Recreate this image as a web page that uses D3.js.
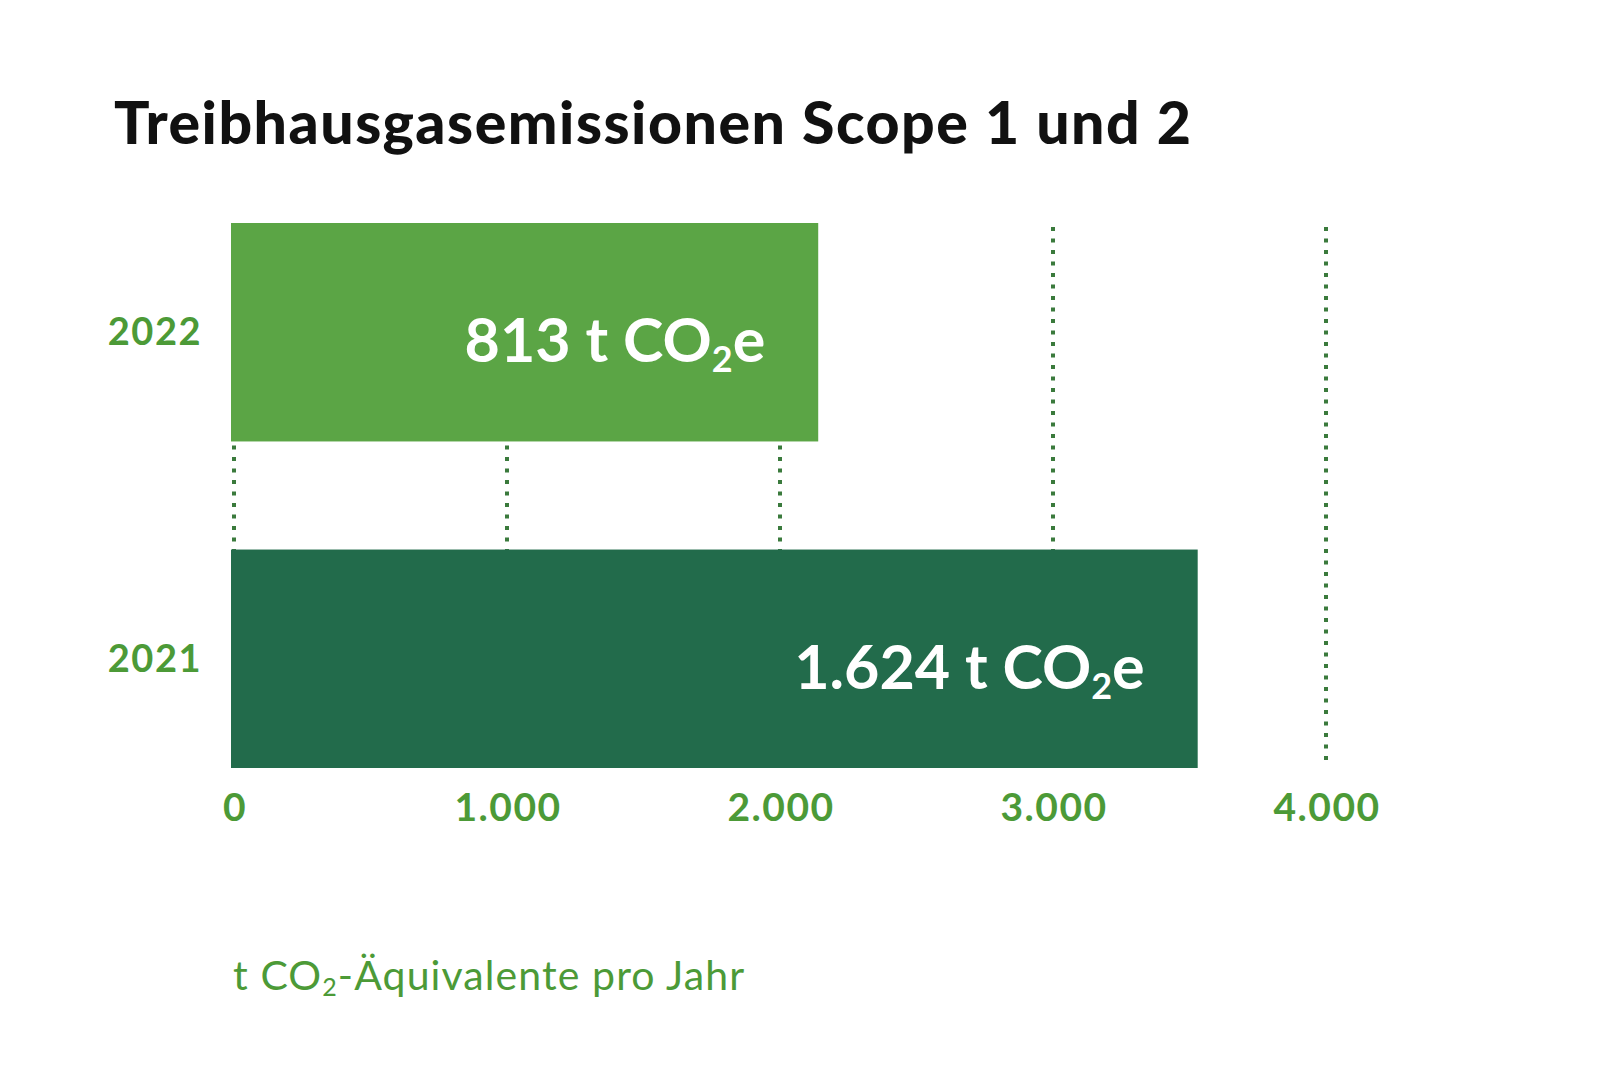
<!DOCTYPE html>
<html lang="de">
<head>
<meta charset="utf-8">
<script src="https://cdn.jsdelivr.net/npm/d3@7"></script>
<style>
  html, body { margin: 0; padding: 0; background: #fff; }
  svg { display: block; }
</style>
</head>
<body>
<div id="chart"></div>
<script>
// values
const years = ["2022", "2021"];
const emissions = [813, 1624];            // printed labels (t CO2e)
const barExtent = [2140, 3530];           // how far each bar reaches on the drawn axis
const ticks = [0, 1000, 2000, 3000, 4000];
const tickLabels = ["0", "1.000", "2.000", "3.000", "4.000"];
const barColors = ["#5ba545", "#226b4b"];

const title = "Treibhausgasemissionen Scope 1 und 2";

const width = 1600;
const height = 1068;
const fontFamily = "Lato, 'Open Sans', sans-serif";
const green = "#4c9a37";

const x = d3.scaleLinear().domain([0, 4000]).range([234, 1326]);
const y = d3.scaleBand().domain(years).range([223, 768]).paddingInner(0.331).paddingOuter(0);

const svg = d3
  .select("#chart")
  .append("svg")
  .attr("width", width)
  .attr("height", height)
  .attr("viewBox", `0 0 ${width} ${height}`);

svg
  .append("text")
  .attr("x", 114)
  .attr("y", 144)
  .attr("font-family", fontFamily)
  .attr("font-weight", 900)
  .attr("font-size", 59)
  .attr("letter-spacing", 1.5)
  .attr("fill", "#111")
  .text(title);

// dotted gridlines, sitting behind the bars
svg
  .append("g")
  .selectAll("line")
  .data(ticks)
  .join("line")
  .attr("x1", (d) => x(d))
  .attr("x2", (d) => x(d))
  .attr("y1", 227)
  .attr("y2", 760)
  .attr("stroke", "#3a7a3c")
  .attr("stroke-width", 4)
  .attr("stroke-dasharray", "4 7.5");

const bars = years.map((year, i) => ({
  year,
  value: emissions[i],
  extent: barExtent[i],
  color: barColors[i],
}));

svg
  .append("g")
  .selectAll("rect")
  .data(bars)
  .join("rect")
  .attr("x", x(0) - 3)
  .attr("y", (d) => y(d.year))
  .attr("width", (d) => x(d.extent) - x(0) + 3)
  .attr("height", y.bandwidth())
  .attr("fill", (d) => d.color);

// value labels inside bars
const fmt = d3.formatLocale({ decimal: ",", thousands: ".", grouping: [3], currency: ["", "€"] }).format(",d");

const valueText = svg
  .append("g")
  .selectAll("text")
  .data(bars)
  .join("text")
  .attr("x", (d) => x(d.extent) - 53)
  .attr("y", (d) => y(d.year) + y.bandwidth() / 2 + 30)
  .attr("text-anchor", "end")
  .attr("font-family", fontFamily)
  .attr("font-weight", 700)
  .attr("font-size", 61)
  .attr("fill", "#fff");

valueText.append("tspan").text((d) => `${fmt(d.value)} t CO`);
valueText.append("tspan").attr("font-size", 36).attr("dy", 10).text("2");
valueText.append("tspan").attr("dy", -10).text("e");

// year labels
svg
  .append("g")
  .selectAll("text")
  .data(years)
  .join("text")
  .attr("x", 202)
  .attr("y", (d) => y(d) + y.bandwidth() / 2 + 13)
  .attr("text-anchor", "end")
  .attr("font-family", fontFamily)
  .attr("font-weight", 700)
  .attr("font-size", 38)
  .attr("letter-spacing", 1.5)
  .attr("fill", green)
  .text((d) => d);

// x axis tick labels
svg
  .append("g")
  .selectAll("text")
  .data(ticks)
  .join("text")
  .attr("x", (d) => x(d) + 1)
  .attr("y", 821)
  .attr("text-anchor", "middle")
  .attr("font-family", fontFamily)
  .attr("font-weight", 700)
  .attr("font-size", 39)
  .attr("letter-spacing", 1.5)
  .attr("fill", green)
  .text((d, i) => tickLabels[i]);

// unit label
const unit = svg
  .append("text")
  .attr("x", 233)
  .attr("y", 990)
  .attr("font-family", fontFamily)
  .attr("font-size", 41)
  .attr("letter-spacing", 1.1)
  .attr("fill", green);
unit.append("tspan").text("t CO");
unit.append("tspan").attr("font-size", 25).attr("dy", 6).text("2");
unit.append("tspan").attr("dy", -6).text("-Äquivalente pro Jahr");
</script>
</body>
</html>
